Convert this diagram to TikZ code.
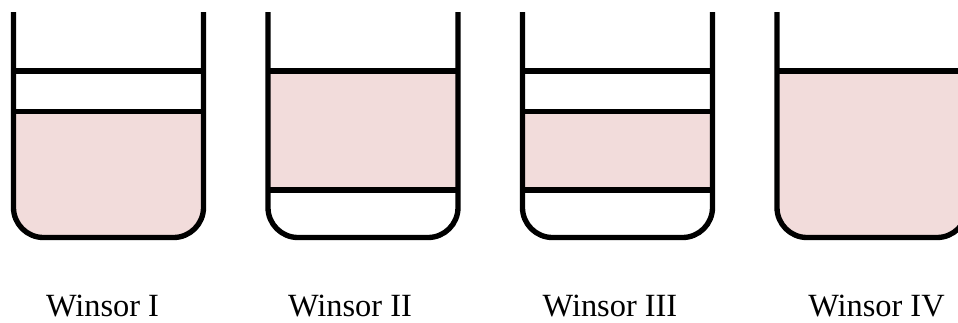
\documentclass[tikz,border=0pt]{standalone}
\usepackage{fontspec}
\setmainfont{Liberation Serif}
\usetikzlibrary{positioning}
\definecolor{phasepink}{RGB}{242,220,219}
\tikzstyle{wall}     = [draw, line width=4pt, rounded corners=22.5pt]
\tikzstyle{phase}    = [fill=phasepink]
\tikzstyle{iface}    = [draw, line width=4pt]
\tikzstyle{tubename} = [anchor=base, inner sep=0pt,
                        font=\fontsize{24.3}{29}\selectfont]
% inside of one tube, rounded at the bottom only
\newcommand{\tubeinside}{
  \clip[rounded corners=22.5pt] (0,-40) -- (0,237.5) -- (190,237.5) -- (190,-40) -- cycle;
}
\newcommand{\tubewall}{
  \draw[wall] (0,12) -- (0,237.5) -- (190,237.5) -- (190,12);
}

\begin{document}
\begin{tikzpicture}[x=0.75pt, y=-0.75pt]
		\useasboundingbox (0,0) rectangle (958,322);
		\clip (0,0) rectangle (958,322);

		% Winsor I
		\begin{scope}[shift={(13.5,0)}]
			\begin{scope}
				\tubeinside
				\fill[phase] (0,111.5) rectangle (190,240);
			\end{scope}
			\draw[iface] (0,71) -- (190,71);
			\draw[iface] (0,111.5) -- (190,111.5);
			\tubewall
		\end{scope}

		% Winsor II
		\begin{scope}[shift={(268,0)}]
			\begin{scope}
				\tubeinside
				\fill[phase] (0,71) rectangle (190,190);
			\end{scope}
			\draw[iface] (0,71) -- (190,71);
			\draw[iface] (0,190) -- (190,190);
			\tubewall
		\end{scope}

		% Winsor III
		\begin{scope}[shift={(522.5,0)}]
			\begin{scope}
				\tubeinside
				\fill[phase] (0,111.5) rectangle (190,190);
			\end{scope}
			\draw[iface] (0,71) -- (190,71);
			\draw[iface] (0,111.5) -- (190,111.5);
			\draw[iface] (0,190) -- (190,190);
			\tubewall
		\end{scope}

		% Winsor IV
		\begin{scope}[shift={(777,0)}]
			\begin{scope}
				\tubeinside
				\fill[phase] (0,71) rectangle (190,240);
			\end{scope}
			\draw[iface] (0,71) -- (190,71);
			\tubewall
		\end{scope}

		\node[tubename] (w1) at (102.5,316) {Winsor I};
		\node[tubename] (w2) at (350,316) {Winsor II};
		\node[tubename] (w3) at (610,316) {Winsor III};
		\node[tubename] (w4) at (876.5,316) {Winsor IV};
	\end{tikzpicture}
\end{document}
